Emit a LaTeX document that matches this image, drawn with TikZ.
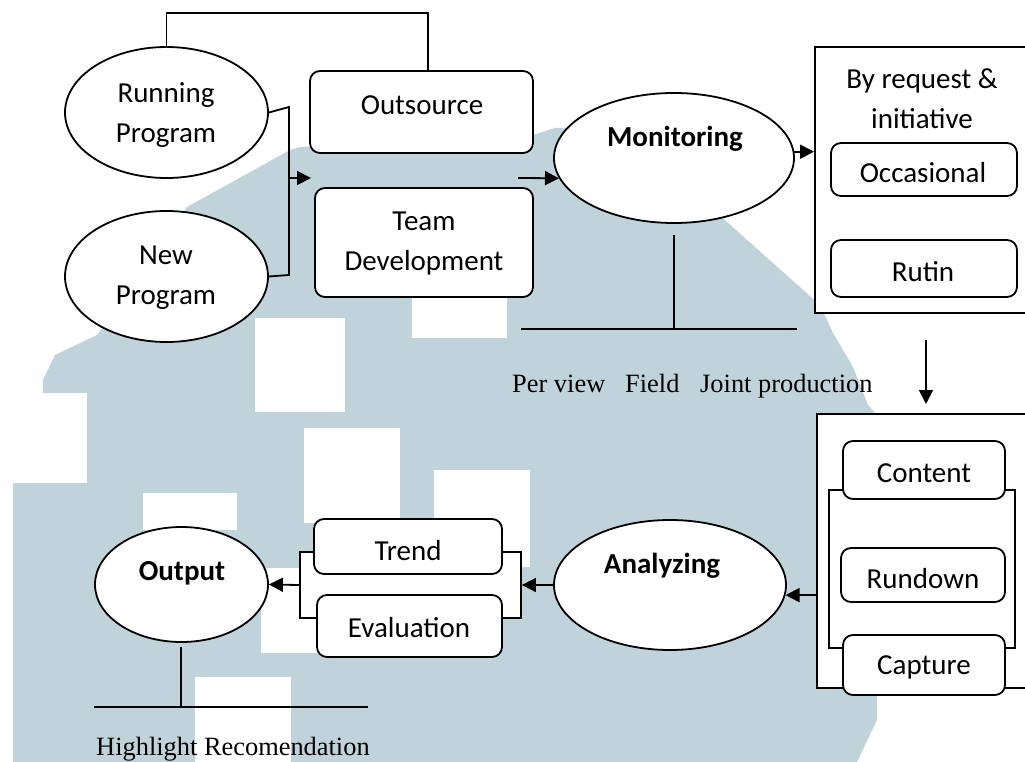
\documentclass[tikz,border=0pt]{standalone}
\usepackage{fontspec}
\setmainfont{Carlito}
\newfontfamily\tnr{Liberation Serif}
\usetikzlibrary{shapes.geometric,arrows.meta}
\definecolor{wm}{RGB}{193,211,218}
\begin{document}
\begin{tikzpicture}[x=1pt,y=-1pt,
  ell/.style={ellipse, draw, fill=white, line width=1.8pt, inner sep=0pt},
  rbox/.style={rectangle, rounded corners=10pt, draw, fill=white, line width=1.8pt, inner sep=0pt},
  sbox/.style={rectangle, draw, fill=white, line width=1.8pt, inner sep=0pt},
  lbl/.style={font={\fontsize{29}{40}\selectfont}, align=center, inner sep=0pt},
  blbl/.style={font={\fontsize{29}{40}\selectfont\bfseries}, align=center, inner sep=0pt},
  tlbl/.style={font={\tnr\fontsize{26.4}{30}\selectfont}, inner sep=0pt, anchor=base west},
  ln/.style={line width=1.8pt},
  arr/.style={line width=1.8pt, -{Triangle[length=14pt,width=14pt]}}]
\useasboundingbox (0,0) rectangle (1025,762);
\fill[white] (0,0) rectangle (1025,762);
% watermark
\fill[wm] (187,207) -- (290,150) -- (300,147) -- (533,135) -- (555,128) -- (620,128)
  -- (727,222) -- (820,305) -- (833,333) -- (853,367) -- (868,405) -- (877,415)
  -- (877,720) -- (857,762) -- (13,762) -- (13,483) -- (87,483) -- (87,393)
  -- (43,393) -- (43,380) -- (55,355) -- (97,335) -- (140,280) -- cycle;
\fill[white] (255,318) rectangle (345,412);
\fill[white] (412,290) rectangle (507,338);
\fill[white] (304,428) rectangle (400,523);
\fill[white] (434,470) rectangle (530,567);
\fill[white] (143,493) rectangle (237,530);
\fill[white] (261,568) rectangle (317,653);
\fill[white] (195,677) rectangle (291,762);

% nodes
\node[ell, minimum width=203pt, minimum height=131pt] (run) at (166.5,112.5) {};
\node[lbl] (runt) at (166,115) {Running\\Program};
\node[ell, minimum width=203pt, minimum height=131pt] (new) at (166.5,276.5) {};
\node[lbl] (newt) at (166,278) {New\\Program};
\node[rbox, minimum width=223pt, minimum height=82pt] (out) at (421.5,112) {};
\node[lbl] (outt) at (422,105) {Outsource};
\node[rbox, minimum width=218pt, minimum height=109pt] (team) at (424,242.5) {};
\node[lbl] (teamt) at (424,244) {Team\\Development};
\node[ell, minimum width=240pt, minimum height=130pt] (mon) at (674,158) {};
\node[blbl] (mont) at (675,139) {Monitoring};

\node[sbox, minimum width=215pt, minimum height=266pt] (req) at (922.5,180) {};
\node[lbl] (reqt) at (922,99) {By request \&\\initiative};
\node[rbox, minimum width=186pt, minimum height=53pt] (occ) at (924,169.5) {};
\node[lbl] (occt) at (923,173) {Occasional};
\node[rbox, minimum width=186pt, minimum height=57pt] (rut) at (924,268.5) {};
\node[lbl] (rutt) at (923,272) {Rutin};

\node[sbox, minimum width=213pt, minimum height=274pt] (cap) at (923.5,551) {};
\node[sbox, minimum width=186pt, minimum height=158pt] (br2) at (922,569) {};
\node[rbox, minimum width=162pt, minimum height=58pt] (con) at (924,470) {};
\node[lbl] (cont) at (924,473) {Content};
\node[rbox, minimum width=164pt, minimum height=54pt] (rdn) at (923,575) {};
\node[lbl] (rdnt) at (923,579) {Rundown};
\node[rbox, minimum width=162pt, minimum height=60pt] (cpt) at (924,665) {};
\node[lbl] (cptt) at (924,667) {Capture};

\node[ell, minimum width=232pt, minimum height=130pt] (ana) at (670,585) {};
\node[blbl] (anat) at (662,566) {Analyzing};

\node[sbox, minimum width=221pt, minimum height=66pt] (br1) at (410.5,585) {};
\node[rbox, minimum width=188pt, minimum height=55pt] (tre) at (408,546.5) {};
\node[lbl] (tret) at (408,551) {Trend};
\node[rbox, minimum width=185pt, minimum height=62pt] (eva) at (409.5,626) {};
\node[lbl] (evat) at (409,628) {Evaluation};

\node[ell, minimum width=173pt, minimum height=115pt] (outp) at (181.5,584.5) {};
\node[blbl] (outpt) at (182,573) {Output};

% free texts
\node[tlbl] (pv) at (512,392) {Per view};
\node[tlbl] (fd) at (625,392) {Field};
\node[tlbl] (jp) at (700,392) {Joint production};
\node[tlbl] (hr) at (96,755) {Highlight Recomendation};

% connectors
\coordinate (t1) at (166.5,13);
\coordinate (t2) at (428,13);
\draw[ln] (run.north) -- (t1) -- (t2) -- (t2 |- out.north);

\coordinate (j1) at (289,107);
\coordinate (j2) at (289,275);
\coordinate (j3) at (289,178);
\coordinate (a1) at (311,178);
\draw[ln] (run.east) -- (j1) -- (j2) -- (new.east);
\draw[arr] (j3) -- (a1);

\coordinate (a2) at (518,178);
\draw[arr] (a2) -- (mon.190);

\draw[arr] (mon.3) -- (mon.3 -| req.west);

\coordinate (m1) at (674,235);
\coordinate (m2) at (674,329);
\coordinate (m3) at (521,329);
\coordinate (m4) at (797,329);
\draw[ln] (m1) -- (m2);
\draw[ln] (m3) -- (m4);

\coordinate (c1) at (926,340);
\coordinate (c2) at (926,404);
\draw[arr] (c1) -- (c2);

\draw[arr] (cap.west |- ana.-5) -- (ana.-5);
\draw[arr] (ana.west) -- (ana.west -| br1.east);
\draw[arr] (br1.west) -- (outp.east);

\coordinate (o1) at (181,647);
\coordinate (o2) at (181,707);
\coordinate (o3) at (94,707);
\coordinate (o4) at (368,707);
\draw[ln] (o1) -- (o2);
\draw[ln] (o3) -- (o4);
\end{tikzpicture}
\end{document}
